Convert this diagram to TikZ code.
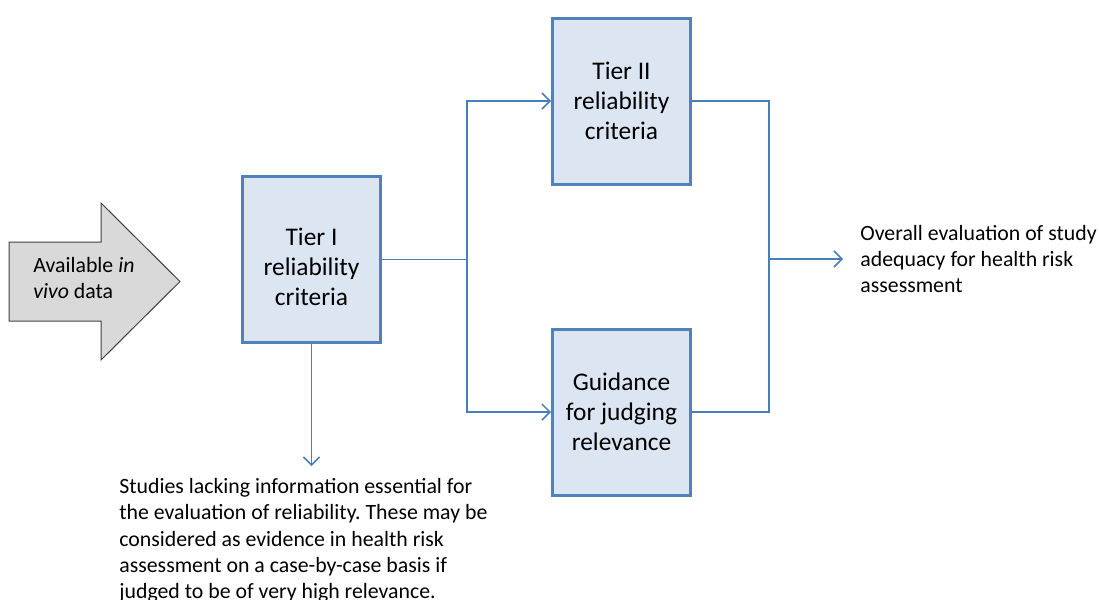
\documentclass[tikz,border=0pt]{standalone}
\usepackage{fontspec}
\setmainfont{Carlito}
\usepackage{xcolor}
\usepackage{tikz}
\usetikzlibrary{arrows.meta,positioning}
\definecolor{boxblue}{HTML}{4F81BD}
\definecolor{boxfill}{HTML}{DCE6F2}
\definecolor{lineblue}{HTML}{4A7EBB}
\definecolor{arrowgray}{HTML}{D9D9D9}
\newcommand{\boxfont}{\fontsize{12.7}{15}\selectfont}
\newcommand{\notefont}{\fontsize{10.9}{13.15}\selectfont}
\frenchspacing
\begin{document}
\begin{tikzpicture}[x=0.5pt,y=-0.5pt,
	tierbox/.style={draw=boxblue,line width=1.5pt,fill=boxfill,align=center,
		minimum width=69pt,minimum height=83pt,inner sep=0pt,font=\boxfont},
	wire/.style={draw=lineblue,line width=0.75pt},
	flow/.style={wire,-{Straight Barb[length=4pt,width=8pt]}},
	note/.style={align=left,inner sep=0pt,font=\notefont}]
	\useasboundingbox (0,0) rectangle (1099,600);
	%
	%  INPUT ARROW
	%
	\draw[fill=arrowgray,draw=black!75,line width=0.5pt]
	(9,242) -- (101,242) -- (101,203) -- (180,281.5) -- (101,360) -- (101,321) -- (9,321) -- cycle;
	\node[note,anchor=west] (data) at (33,278) {Available \textit{in}\\\textit{vivo} data};
	%
	%  BOXES
	%
	\node[tierbox,text height=46.4pt] (tier1) at (311.5,259.5) {Tier I\\reliability\\criteria};
	\node[tierbox] (tier2) at (621.5,101) {Tier II\\reliability\\criteria};
	\node[tierbox] (guide) at (621.5,412) {Guidance\\for judging\\relevance};
	%
	%  TEXTS
	%
	\node[note,anchor=west] (overall) at (860,259) {Overall evaluation of study\\adequacy for health risk\\assessment};
	\node[note,anchor=north west] (lack) at (119,478) {Studies lacking information essential for\\the evaluation of reliability. These may be\\considered as evidence in health risk\\assessment on a case-by-case basis if\\judged to be of very high relevance.};
	%
	%  CONNECTORS
	%
	\coordinate (split) at (467,259.5);
	\coordinate (join) at (769,259);
	\draw[wire] (tier1.east) -- (split);
	\draw[flow] (split) |- (tier2.west);
	\draw[flow] (split) |- (guide.west);
	\draw[wire] (tier2.east) -| (join);
	\draw[wire] (guide.east) -| (join);
	\draw[flow,shorten >=8.5pt] (join) -- (overall.west |- join);
	\draw[flow,shorten >=6pt] (tier1.south) -- (tier1.south |- lack.north);
\end{tikzpicture}
\end{document}
